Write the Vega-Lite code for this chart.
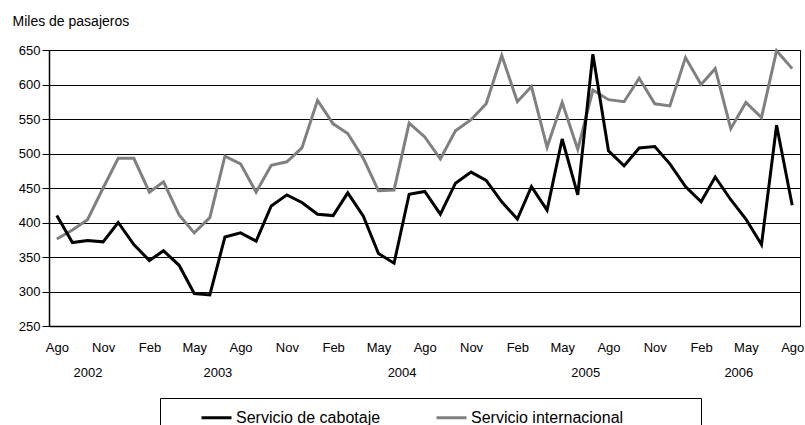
{
  "$schema": "https://vega.github.io/schema/vega-lite/v6.json",
  "width": 751,
  "height": 276,
  "autosize": {"type": "none"},
  "padding": {"left": 49, "top": 50, "right": 5, "bottom": 99},
  "background": "white",
  "config": {
    "font": "Liberation Sans",
    "view": {"stroke": "#000", "strokeWidth": 1}
  },
  "data": {
    "values": [
      {"mes": "2002-08-01", "serie": "Servicio de cabotaje", "valor": 410},
      {"mes": "2002-09-01", "serie": "Servicio de cabotaje", "valor": 371},
      {"mes": "2002-10-01", "serie": "Servicio de cabotaje", "valor": 374},
      {"mes": "2002-11-01", "serie": "Servicio de cabotaje", "valor": 372},
      {"mes": "2002-12-01", "serie": "Servicio de cabotaje", "valor": 400},
      {"mes": "2003-01-01", "serie": "Servicio de cabotaje", "valor": 368},
      {"mes": "2003-02-01", "serie": "Servicio de cabotaje", "valor": 345},
      {"mes": "2003-03-01", "serie": "Servicio de cabotaje", "valor": 359},
      {"mes": "2003-04-01", "serie": "Servicio de cabotaje", "valor": 338},
      {"mes": "2003-05-01", "serie": "Servicio de cabotaje", "valor": 297},
      {"mes": "2003-06-01", "serie": "Servicio de cabotaje", "valor": 295},
      {"mes": "2003-07-01", "serie": "Servicio de cabotaje", "valor": 379},
      {"mes": "2003-08-01", "serie": "Servicio de cabotaje", "valor": 385},
      {"mes": "2003-09-01", "serie": "Servicio de cabotaje", "valor": 373},
      {"mes": "2003-10-01", "serie": "Servicio de cabotaje", "valor": 424},
      {"mes": "2003-11-01", "serie": "Servicio de cabotaje", "valor": 440},
      {"mes": "2003-12-01", "serie": "Servicio de cabotaje", "valor": 429},
      {"mes": "2004-01-01", "serie": "Servicio de cabotaje", "valor": 412},
      {"mes": "2004-02-01", "serie": "Servicio de cabotaje", "valor": 410},
      {"mes": "2004-03-01", "serie": "Servicio de cabotaje", "valor": 443},
      {"mes": "2004-04-01", "serie": "Servicio de cabotaje", "valor": 409},
      {"mes": "2004-05-01", "serie": "Servicio de cabotaje", "valor": 355},
      {"mes": "2004-06-01", "serie": "Servicio de cabotaje", "valor": 341},
      {"mes": "2004-07-01", "serie": "Servicio de cabotaje", "valor": 441},
      {"mes": "2004-08-01", "serie": "Servicio de cabotaje", "valor": 445},
      {"mes": "2004-09-01", "serie": "Servicio de cabotaje", "valor": 412},
      {"mes": "2004-10-01", "serie": "Servicio de cabotaje", "valor": 457},
      {"mes": "2004-11-01", "serie": "Servicio de cabotaje", "valor": 473},
      {"mes": "2004-12-01", "serie": "Servicio de cabotaje", "valor": 461},
      {"mes": "2005-01-01", "serie": "Servicio de cabotaje", "valor": 430},
      {"mes": "2005-02-01", "serie": "Servicio de cabotaje", "valor": 405},
      {"mes": "2005-03-01", "serie": "Servicio de cabotaje", "valor": 452},
      {"mes": "2005-04-01", "serie": "Servicio de cabotaje", "valor": 418},
      {"mes": "2005-05-01", "serie": "Servicio de cabotaje", "valor": 521},
      {"mes": "2005-06-01", "serie": "Servicio de cabotaje", "valor": 440},
      {"mes": "2005-07-01", "serie": "Servicio de cabotaje", "valor": 644},
      {"mes": "2005-08-01", "serie": "Servicio de cabotaje", "valor": 504},
      {"mes": "2005-09-01", "serie": "Servicio de cabotaje", "valor": 482},
      {"mes": "2005-10-01", "serie": "Servicio de cabotaje", "valor": 508},
      {"mes": "2005-11-01", "serie": "Servicio de cabotaje", "valor": 510},
      {"mes": "2005-12-01", "serie": "Servicio de cabotaje", "valor": 485},
      {"mes": "2006-01-01", "serie": "Servicio de cabotaje", "valor": 452},
      {"mes": "2006-02-01", "serie": "Servicio de cabotaje", "valor": 430},
      {"mes": "2006-03-01", "serie": "Servicio de cabotaje", "valor": 466},
      {"mes": "2006-04-01", "serie": "Servicio de cabotaje", "valor": 433},
      {"mes": "2006-05-01", "serie": "Servicio de cabotaje", "valor": 405},
      {"mes": "2006-06-01", "serie": "Servicio de cabotaje", "valor": 368},
      {"mes": "2006-07-01", "serie": "Servicio de cabotaje", "valor": 541},
      {"mes": "2006-08-01", "serie": "Servicio de cabotaje", "valor": 425},
      {"mes": "2002-08-01", "serie": "Servicio internacional", "valor": 376},
      {"mes": "2002-09-01", "serie": "Servicio internacional", "valor": 389},
      {"mes": "2002-10-01", "serie": "Servicio internacional", "valor": 404},
      {"mes": "2002-11-01", "serie": "Servicio internacional", "valor": 450},
      {"mes": "2002-12-01", "serie": "Servicio internacional", "valor": 493},
      {"mes": "2003-01-01", "serie": "Servicio internacional", "valor": 493},
      {"mes": "2003-02-01", "serie": "Servicio internacional", "valor": 444},
      {"mes": "2003-03-01", "serie": "Servicio internacional", "valor": 459},
      {"mes": "2003-04-01", "serie": "Servicio internacional", "valor": 411},
      {"mes": "2003-05-01", "serie": "Servicio internacional", "valor": 385},
      {"mes": "2003-06-01", "serie": "Servicio internacional", "valor": 407},
      {"mes": "2003-07-01", "serie": "Servicio internacional", "valor": 496},
      {"mes": "2003-08-01", "serie": "Servicio internacional", "valor": 485},
      {"mes": "2003-09-01", "serie": "Servicio internacional", "valor": 444},
      {"mes": "2003-10-01", "serie": "Servicio internacional", "valor": 483},
      {"mes": "2003-11-01", "serie": "Servicio internacional", "valor": 488},
      {"mes": "2003-12-01", "serie": "Servicio internacional", "valor": 508},
      {"mes": "2004-01-01", "serie": "Servicio internacional", "valor": 577},
      {"mes": "2004-02-01", "serie": "Servicio internacional", "valor": 543},
      {"mes": "2004-03-01", "serie": "Servicio internacional", "valor": 529},
      {"mes": "2004-04-01", "serie": "Servicio internacional", "valor": 493},
      {"mes": "2004-05-01", "serie": "Servicio internacional", "valor": 446},
      {"mes": "2004-06-01", "serie": "Servicio internacional", "valor": 447},
      {"mes": "2004-07-01", "serie": "Servicio internacional", "valor": 544},
      {"mes": "2004-08-01", "serie": "Servicio internacional", "valor": 524},
      {"mes": "2004-09-01", "serie": "Servicio internacional", "valor": 492},
      {"mes": "2004-10-01", "serie": "Servicio internacional", "valor": 533},
      {"mes": "2004-11-01", "serie": "Servicio internacional", "valor": 549},
      {"mes": "2004-12-01", "serie": "Servicio internacional", "valor": 572},
      {"mes": "2005-01-01", "serie": "Servicio internacional", "valor": 642},
      {"mes": "2005-02-01", "serie": "Servicio internacional", "valor": 575},
      {"mes": "2005-03-01", "serie": "Servicio internacional", "valor": 597},
      {"mes": "2005-04-01", "serie": "Servicio internacional", "valor": 509},
      {"mes": "2005-05-01", "serie": "Servicio internacional", "valor": 574},
      {"mes": "2005-06-01", "serie": "Servicio internacional", "valor": 506},
      {"mes": "2005-07-01", "serie": "Servicio internacional", "valor": 592},
      {"mes": "2005-08-01", "serie": "Servicio internacional", "valor": 578},
      {"mes": "2005-09-01", "serie": "Servicio internacional", "valor": 575},
      {"mes": "2005-10-01", "serie": "Servicio internacional", "valor": 609},
      {"mes": "2005-11-01", "serie": "Servicio internacional", "valor": 572},
      {"mes": "2005-12-01", "serie": "Servicio internacional", "valor": 569},
      {"mes": "2006-01-01", "serie": "Servicio internacional", "valor": 639},
      {"mes": "2006-02-01", "serie": "Servicio internacional", "valor": 600},
      {"mes": "2006-03-01", "serie": "Servicio internacional", "valor": 623},
      {"mes": "2006-04-01", "serie": "Servicio internacional", "valor": 536},
      {"mes": "2006-05-01", "serie": "Servicio internacional", "valor": 574},
      {"mes": "2006-06-01", "serie": "Servicio internacional", "valor": 552},
      {"mes": "2006-07-01", "serie": "Servicio internacional", "valor": 649},
      {"mes": "2006-08-01", "serie": "Servicio internacional", "valor": 623}
    ]
  },
  "encoding": {
    "y": {
      "field": "valor",
      "type": "quantitative",
      "scale": {"domain": [250, 650]},
      "axis": {
        "values": [250, 300, 350, 400, 450, 500, 550, 600, 650],
        "title": "Miles de pasajeros",
        "titleAngle": 0,
        "titleAlign": "left",
        "titleBaseline": "alphabetic",
        "titleX": -37,
        "titleY": -25,
        "titleFontSize": 14,
        "titleFontWeight": "normal",
        "titleColor": "#000",
        "grid": true,
        "gridColor": "#000",
        "gridWidth": 1,
        "tickSize": 7,
        "tickColor": "#000",
        "labelFontSize": 13,
        "labelPadding": 2,
        "labelColor": "#000",
        "domainColor": "#000",
        "domainWidth": 1.5
      }
    },
    "color": {
      "field": "serie",
      "type": "nominal",
      "scale": {
        "domain": ["Servicio de cabotaje", "Servicio internacional"],
        "range": ["#000000", "#808080"]
      },
      "legend": {
        "orient": "none",
        "legendX": 111,
        "legendY": 348,
        "direction": "horizontal",
        "title": "\u2003",
        "titleOrient": "right",
        "titleFontSize": 16,
        "titlePadding": 75,
        "strokeColor": "#000",
        "fillColor": "white",
        "padding": 3,
        "symbolType": "stroke",
        "symbolSize": 900,
        "symbolStrokeWidth": 3,
        "symbolOffset": 37,
        "labelFontSize": 16,
        "labelColor": "#000",
        "labelOffset": 3,
        "labelLimit": 400,
        "columnPadding": 17
      }
    }
  },
  "layer": [
    {
      "transform": [{"filter": "datum.serie === 'Servicio internacional'"}],
      "mark": {"type": "line", "strokeWidth": 3},
      "encoding": {
        "x": {
          "field": "mes",
          "type": "temporal",
          "scale": {
            "type": "utc",
            "domain": [
              {"year": 2002, "month": 7, "date": 16, "hours": 12, "utc": true},
              {"year": 2006, "month": 8, "date": 16, "hours": 12, "utc": true}
            ]
          },
          "axis": {
            "orient": "bottom",
            "title": null,
            "grid": false,
            "ticks": false,
            "values": [
              {"year": 2002, "month": 8, "date": 1, "utc": true},
              {"year": 2002, "month": 11, "date": 1, "utc": true},
              {"year": 2003, "month": 2, "date": 1, "utc": true},
              {"year": 2003, "month": 5, "date": 1, "utc": true},
              {"year": 2003, "month": 8, "date": 1, "utc": true},
              {"year": 2003, "month": 11, "date": 1, "utc": true},
              {"year": 2004, "month": 2, "date": 1, "utc": true},
              {"year": 2004, "month": 5, "date": 1, "utc": true},
              {"year": 2004, "month": 8, "date": 1, "utc": true},
              {"year": 2004, "month": 11, "date": 1, "utc": true},
              {"year": 2005, "month": 2, "date": 1, "utc": true},
              {"year": 2005, "month": 5, "date": 1, "utc": true},
              {"year": 2005, "month": 8, "date": 1, "utc": true},
              {"year": 2005, "month": 11, "date": 1, "utc": true},
              {"year": 2006, "month": 2, "date": 1, "utc": true},
              {"year": 2006, "month": 5, "date": 1, "utc": true},
              {"year": 2006, "month": 8, "date": 1, "utc": true}
            ],
            "labelExpr": "utcmonth(datum.value) == 7 ? 'Ago' : utcmonth(datum.value) == 10 ? 'Nov' : utcmonth(datum.value) == 1 ? 'Feb' : 'May'",
            "labelFontSize": 13,
            "labelPadding": 15,
            "labelColor": "#000",
            "labelFlush": false,
            "labelOverlap": false,
            "domainColor": "#000",
            "domainWidth": 1.5
          }
        }
      }
    },
    {
      "transform": [{"filter": "datum.serie === 'Servicio de cabotaje'"}],
      "mark": {"type": "line", "strokeWidth": 3},
      "encoding": {
        "x": {
          "field": "mes",
          "type": "temporal",
          "scale": {
            "type": "utc",
            "domain": [
              {"year": 2002, "month": 7, "date": 16, "hours": 12, "utc": true},
              {"year": 2006, "month": 8, "date": 16, "hours": 12, "utc": true}
            ]
          },
          "axis": {
            "orient": "bottom",
            "offset": 25,
            "title": null,
            "grid": false,
            "ticks": false,
            "domain": false,
            "values": [
              {"year": 2002, "month": 10, "date": 1, "utc": true},
              {"year": 2003, "month": 6, "date": 16, "utc": true},
              {"year": 2004, "month": 6, "date": 16, "utc": true},
              {"year": 2005, "month": 6, "date": 16, "utc": true},
              {"year": 2006, "month": 4, "date": 16, "utc": true}
            ],
            "labelExpr": "utcFormat(datum.value, '%Y')",
            "labelFontSize": 13,
            "labelPadding": 15,
            "labelColor": "#000",
            "labelFlush": false,
            "labelOverlap": false
          }
        }
      }
    }
  ],
  "resolve": {"axis": {"x": "independent"}}
}
